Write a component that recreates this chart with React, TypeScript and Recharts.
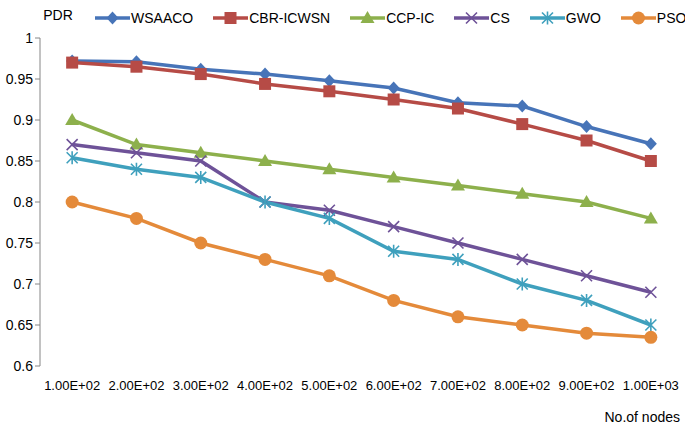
import React from "react";
import { LineChart, Line, XAxis, YAxis, Legend, Label } from "recharts";

const categories = ["1.00E+02", "2.00E+02", "3.00E+02", "4.00E+02", "5.00E+02", "6.00E+02", "7.00E+02", "8.00E+02", "9.00E+02", "1.00E+03"];
const wsaaco = [0.972, 0.971, 0.962, 0.956, 0.948, 0.939, 0.921, 0.917, 0.892, 0.871];
const cbrIcwsn = [0.97, 0.965, 0.956, 0.944, 0.935, 0.925, 0.914, 0.895, 0.875, 0.85];
const ccpIc = [0.9, 0.87, 0.86, 0.85, 0.84, 0.83, 0.82, 0.81, 0.8, 0.78];
const cs = [0.87, 0.86, 0.85, 0.8, 0.79, 0.77, 0.75, 0.73, 0.71, 0.69];
const gwo = [0.854, 0.84, 0.83, 0.8, 0.78, 0.74, 0.73, 0.7, 0.68, 0.65];
const pso = [0.8, 0.78, 0.75, 0.73, 0.71, 0.68, 0.66, 0.65, 0.64, 0.635];
const yTicks = [0.6, 0.65, 0.7, 0.75, 0.8, 0.85, 0.9, 0.95, 1];

const data = categories.map((c, i) => ({
  pos: i + 0.5,
  label: c,
  WSAACO: wsaaco[i],
  "CBR-ICWSN": cbrIcwsn[i],
  "CCP-IC": ccpIc[i],
  CS: cs[i],
  GWO: gwo[i],
  PSO: pso[i],
}));

const series = [
  { key: "WSAACO", color: "#4774B8", shape: "diamond" },
  { key: "CBR-ICWSN", color: "#B64B46", shape: "square" },
  { key: "CCP-IC", color: "#8DB04C", shape: "triangle" },
  { key: "CS", color: "#6E5298", shape: "x" },
  { key: "GWO", color: "#3FA0BD", shape: "star" },
  { key: "PSO", color: "#E48A3A", shape: "circle" },
];

const FONT = "'Liberation Sans', Arial, sans-serif";
const AXIS = "#868686";

function Marker({ shape, color, cx, cy }: any) {
  switch (shape) {
    case "diamond":
      return <path d={`M${cx},${cy - 6.5}L${cx + 6},${cy}L${cx},${cy + 6.5}L${cx - 6},${cy}Z`} fill={color} />;
    case "square":
      return <rect x={cx - 6} y={cy - 6} width={12} height={12} fill={color} />;
    case "triangle":
      return <path d={`M${cx},${cy - 7}L${cx + 7},${cy + 5}L${cx - 7},${cy + 5}Z`} fill={color} />;
    case "x":
      return (
        <path d={`M${cx - 5.5},${cy - 5.5}L${cx + 5.5},${cy + 5.5}M${cx + 5.5},${cy - 5.5}L${cx - 5.5},${cy + 5.5}`} stroke={color} strokeWidth={1.6} />
      );
    case "star":
      return (
        <path
          d={`M${cx - 5.5},${cy - 5.5}L${cx + 5.5},${cy + 5.5}M${cx + 5.5},${cy - 5.5}L${cx - 5.5},${cy + 5.5}M${cx},${cy - 6.5}L${cx},${cy + 6.5}`}
          stroke={color}
          strokeWidth={1.6}
        />
      );
    default:
      return <circle cx={cx} cy={cy} r={6.5} fill={color} />;
  }
}

function LegendContent() {
  return (
    <div style={{ display: "flex", alignItems: "center", whiteSpace: "nowrap", fontFamily: FONT, fontSize: 14, color: "#000" }}>
      {series.map((s, i) => (
        <div key={s.key} style={{ display: "flex", alignItems: "center", marginRight: i < series.length - 1 ? 20 : 0 }}>
          <svg width={35} height={16} style={{ marginRight: 1 }}>
            <line x1={0} y1={8} x2={35} y2={8} stroke={s.color} strokeWidth={3.5} />
            <Marker shape={s.shape} color={s.color} cx={17.5} cy={8} />
          </svg>
          <span>{s.key}</span>
        </div>
      ))}
    </div>
  );
}

export default function App() {
  return (
    <div style={{ position: "absolute", left: 0, top: 0, width: 685, height: 429, overflow: "hidden", background: "#fff" }}>
      <LineChart width={685} height={429} data={data} margin={{ top: 38, right: 2, bottom: 8, left: 0 }}>
        <XAxis
          xAxisId="frame"
          type="number"
          dataKey="pos"
          domain={[0, 10]}
          ticks={[0, 1, 2, 3, 4, 5, 6, 7, 8, 9, 10]}
          tick={false}
          height={0}
          axisLine={{ stroke: AXIS }}
          tickLine={{ stroke: AXIS }}
          tickSize={5}
        />
        <XAxis
          xAxisId="labels"
          type="number"
          dataKey="pos"
          domain={[0, 10]}
          ticks={data.map((d) => d.pos)}
          tickFormatter={(v: number) => categories[Math.floor(v)]}
          axisLine={false}
          tickLine={false}
          tickSize={0}
          tickMargin={15}
          height={55}
          interval={0}
          tick={{ fontFamily: FONT, fontSize: 13, fill: "#000" }}
        >
          <Label value="No.of nodes" position="insideBottomRight" offset={5} dx={2} dy={6} style={{ fontFamily: FONT, fontSize: 14, fill: "#000" }} />
        </XAxis>
        <YAxis
          type="number"
          domain={[0.6, 1]}
          ticks={yTicks}
          width={40}
          interval={0}
          axisLine={{ stroke: AXIS }}
          tickLine={{ stroke: AXIS }}
          tickSize={5}
          tickMargin={2}
          tick={{ fontFamily: FONT, fontSize: 14, fill: "#000" }}
        >
          <Label value="PDR" position="top" offset={18} dx={38} style={{ fontFamily: FONT, fontSize: 14, fill: "#000" }} />
        </YAxis>
        <Legend verticalAlign="middle" align="center" layout="horizontal" content={<LegendContent />} wrapperStyle={{ top: 10, left: 95, width: 588 }} />
        {series.map((s) => (
          <Line
            key={s.key}
            xAxisId="frame"
            dataKey={s.key}
            stroke={s.color}
            strokeWidth={3.5}
            isAnimationActive={false}
            dot={(p: any) => <Marker key={`${s.key}-${p.index}`} shape={s.shape} color={s.color} cx={p.cx} cy={p.cy} />}
            activeDot={false}
          />
        ))}
      </LineChart>
    </div>
  );
}
